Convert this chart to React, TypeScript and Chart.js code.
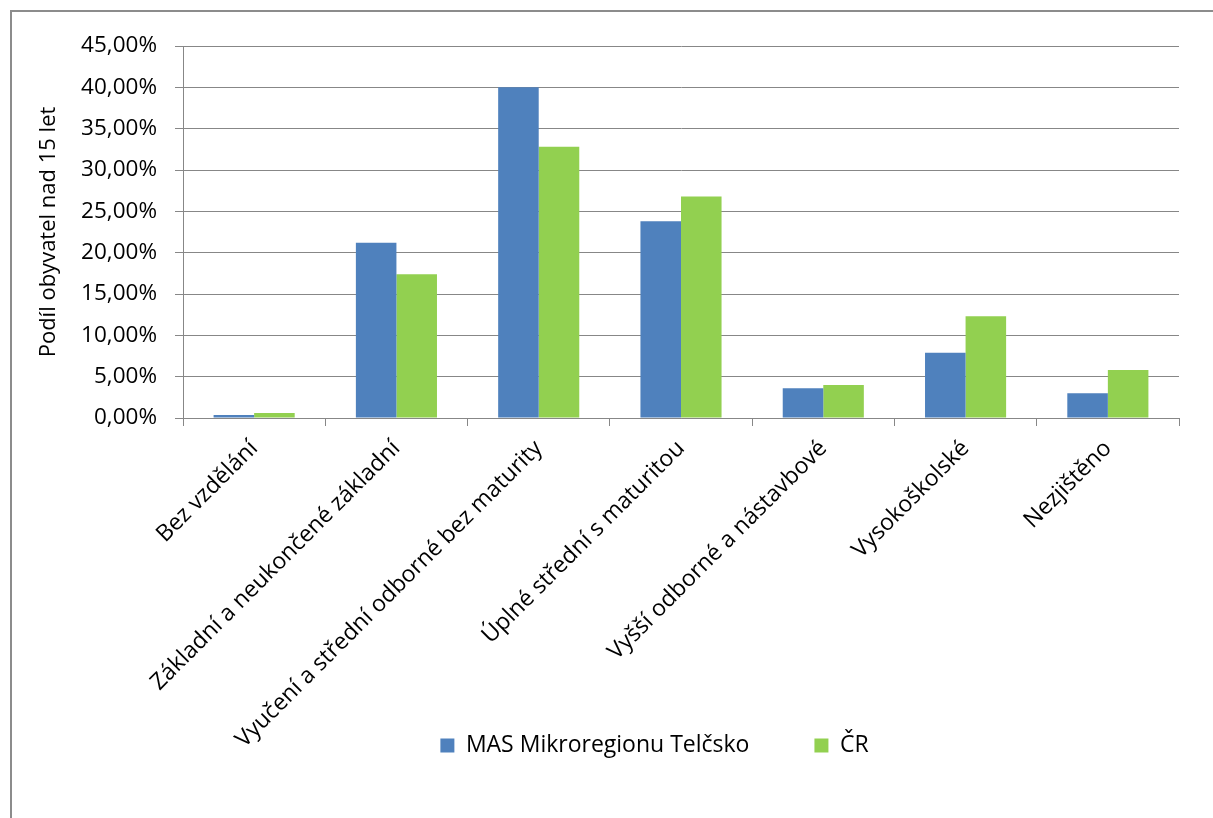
import React, { useEffect, useRef } from "react";
import { Chart, registerables } from "chart.js";

Chart.register(...registerables);

const categories = [
  "Bez vzdělání",
  "Základní a neukončené základní",
  "Vyučení a střední odborné bez maturity",
  "Úplné střední s maturitou",
  "Vyšší odborné a nástavbové",
  "Vysokoškolské",
  "Nezjištěno",
];
const seriesNames = ["MAS Mikroregionu Telčsko", "ČR"];
const masValues = [0.35, 21.2, 40.0, 23.8, 3.6, 7.9, 3.0];
const crValues = [0.6, 17.4, 32.8, 26.8, 4.0, 12.3, 5.8];
const yMin = 0;
const yMax = 45;
const yStep = 5;
const yTitle = "Podíl obyvatel nad 15 let";

const FONT = "'Open Sans', 'Liberation Sans', sans-serif";
const GRID = "#878787";

export default function App() {
  const ref = useRef<HTMLCanvasElement | null>(null);

  useEffect(() => {
    if (!ref.current) return;
    const legendShift = {
      id: "legendShift",
      afterLayout(chart: any) {
        const l = chart.legend;
        if (l) {
          l.left += 47;
          l.right += 47;
          l.top -= 121;
          l.bottom -= 121;
        }
      },
    };
    const chart = new Chart(ref.current, {
      type: "bar",
      data: {
        labels: categories,
        datasets: [
          {
            label: seriesNames[0],
            data: masValues,
            backgroundColor: "#4F81BD",
            categoryPercentage: 0.57,
            barPercentage: 1.0,
          },
          {
            label: seriesNames[1],
            data: crValues,
            backgroundColor: "#92D050",
            categoryPercentage: 0.57,
            barPercentage: 1.0,
          },
        ],
      },
      plugins: [legendShift],
      options: {
        animation: false,
        responsive: false,
        layout: { padding: { left: 36, top: 46, right: 34, bottom: 12 } },
        plugins: {
          tooltip: { enabled: false },
          legend: {
            position: "bottom",
            labels: {
              boxWidth: 14,
              boxHeight: 14,
              padding: 65,
              color: "#000",
              font: { family: FONT, size: 23 },
            },
          },
        },
        scales: {
          x: {
            grid: {
              offset: true,
              drawOnChartArea: false,
              drawTicks: true,
              tickLength: 8,
              color: GRID,
            },
            border: { color: GRID, width: 1 },
            ticks: {
              autoSkip: false,
              minRotation: 45,
              maxRotation: 45,
              padding: 9,
              color: "#000",
              font: { family: FONT, size: 23 },
            },
            afterFit(scale: any) {
              scale.height = 372;
            },
          },
          y: {
            min: yMin,
            max: yMax,
            ticks: {
              stepSize: yStep,
              padding: 18,
              color: "#000",
              font: { family: FONT, size: 22.5 },
              callback: (v: any) => Number(v).toFixed(2).replace(".", ",") + "%",
            },
            grid: { color: GRID, tickLength: 8, drawTicks: true },
            border: { color: GRID, width: 1 },
            title: {
              display: true,
              text: yTitle,
              color: "#000",
              font: { family: FONT, size: 22 },
              padding: { top: 0, bottom: 0 },
            },
            afterFit(scale: any) {
              scale.width = 147;
            },
          },
        },
      },
    });
    return () => chart.destroy();
  }, []);

  return (
    <div
      style={{
        position: "absolute",
        left: 0,
        top: 0,
        width: 1213,
        height: 818,
        overflow: "hidden",
        background: "#fff",
      }}
    >
      <div
        style={{
          position: "absolute",
          left: 10,
          top: 10,
          width: 1300,
          height: 900,
          border: "2px solid #8c8c8c",
        }}
      />
      <canvas
        ref={ref}
        width={1213}
        height={900}
        style={{ position: "absolute", left: 0, top: 0, width: 1213, height: 900 }}
      />
    </div>
  );
}
